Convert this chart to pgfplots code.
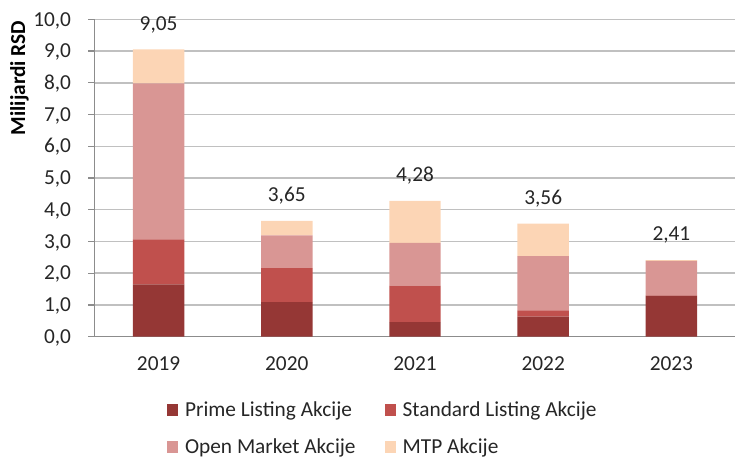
\documentclass[border=0pt]{standalone}
\usepackage{fontspec}
\setmainfont{Carlito}
\usepackage{pgfplots}
\pgfplotsset{compat=1.18}
\definecolor{cPrime}{HTML}{953735}
\definecolor{cStd}{HTML}{C0504D}
\definecolor{cOpen}{HTML}{D99694}
\definecolor{cMTP}{HTML}{FCD5B5}
\definecolor{cGrid}{HTML}{C0C0C0}
\definecolor{cAxis}{HTML}{8C8C8C}
\definecolor{cText}{HTML}{262626}
\begin{document}
\begin{tikzpicture}
\begin{axis}[
  scale only axis, width=480.75pt, height=238.05pt,
  ybar stacked, bar width=38.6pt,
  stacked ignores zero=false,
  xmin=-0.5, xmax=4.5, ymin=0, ymax=10,
  axis x line*=bottom, axis y line*=left,
  axis line style={draw=cAxis, line width=1pt},
  xtick={0,1,2,3,4}, xticklabels={2019,2020,2021,2022,2023},
  xtick style={draw=none},
  extra x ticks={-0.5,0.5,1.5,2.5,3.5,4.5}, extra x tick labels={},
  extra x tick style={tick style={draw=cAxis, line width=1pt}, major tick length=4.5pt, tick align=outside},
  ytick={0,1,2,3,4,5,6,7,8,9,10},
  ytick style={draw=cAxis, line width=1pt},
  major tick length=4.5pt, tick align=outside,
  ymajorgrids=true,
  grid style={draw=cGrid, line width=1.1pt},
  /pgf/number format/assume math mode=true,
  yticklabel style={/pgf/number format/.cd, fixed, fixed zerofill, precision=1, use comma, /tikz/.cd,
    anchor=base east, inner sep=0pt, xshift=-12.9pt, yshift=-5.05pt,
    font=\fontsize{16}{19}\selectfont, text=cText},
  xticklabel style={anchor=base, inner sep=0pt, yshift=-20.5pt,
    font=\fontsize{16}{19}\selectfont, text=cText},
  ylabel={Milijardi RSD},
  ylabel style={at={(axis description cs:-0.117,0.815)}, anchor=center,
    font=\fontsize{16}{19}\selectfont\bfseries, text=black},
  nodes near coords style={anchor=base, inner sep=0pt, yshift=14.45pt,
    font=\fontsize{16}{19}\selectfont, text=cText},
  legend image code/.code={\fill[#1] (0pt,0.9pt) rectangle (8.5pt,9.4pt);},
  legend columns=2,
  legend style={draw=none, fill=none, inner sep=0pt, outer sep=0pt,
    at={(axis description cs:0,0)}, anchor=north west, xshift=54.4pt, yshift=-49.8pt,
    font=\fontsize{16}{19}\selectfont, text=cText,
    /tikz/every odd column/.style={column sep=5pt},
    /tikz/every even column/.style={column sep=21.85pt},
    row sep=17.45pt,
    nodes={inner sep=0pt, text height=10.3pt, text depth=0pt, anchor=base west}},
  legend cell align=left,
]
\addplot[fill=cPrime, draw=none] coordinates {(0,1.65) (1,1.09) (2,0.46) (3,0.63) (4,1.29)};
\addplot[fill=cStd, draw=none] coordinates {(0,1.42) (1,1.07) (2,1.15) (3,0.20) (4,0.0)};
\addplot[fill=cOpen, draw=none] coordinates {(0,4.91) (1,1.03) (2,1.35) (3,1.71) (4,1.10)};
\addplot[fill=cMTP, draw=none] coordinates {(0,1.07) (1,0.46) (2,1.32) (3,1.02) (4,0.02)};
\addplot[fill=none, draw=none, nodes near coords, point meta=explicit symbolic] coordinates {(0,0) [9,05] (1,0) [3,65] (2,0) [4,28] (3,0) [3,56] (4,0) [2,41]};
\legend{Prime Listing Akcije, Standard Listing Akcije, Open Market Akcije, MTP Akcije}
\end{axis}
\pgfresetboundingbox
\path[use as bounding box] (-70.875pt,-90.225pt) rectangle (480.375pt,252.525pt);
\end{tikzpicture}
\end{document}
